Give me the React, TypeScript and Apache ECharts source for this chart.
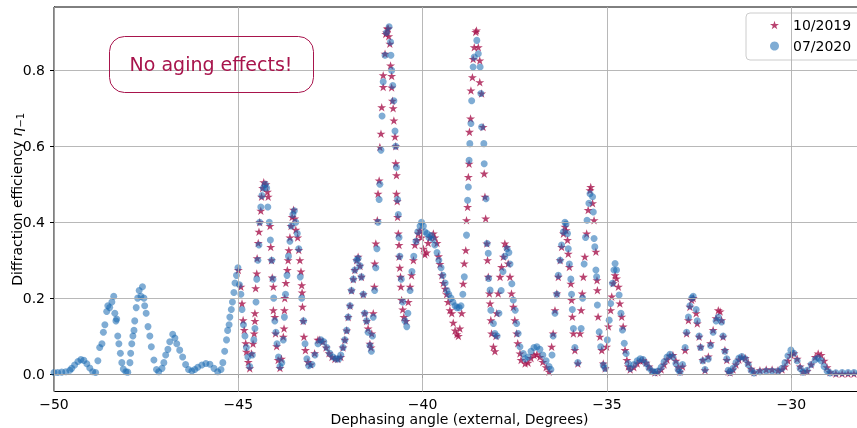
import React, { useEffect, useRef } from 'react';
import * as echarts from 'echarts';

const seriesNames = ['10/2019', '07/2020'];
const xTicks = [-50, -45, -40, -35, -30];
const yTicks = [0, 0.2, 0.4, 0.6, 0.8];

// 10/2019 measurement: [dephasing angle (deg), diffraction efficiency]
const data2019: number[][] = [
  [-45.00,0.274],[-44.93,0.230],[-44.90,0.186],[-44.87,0.142],[-44.84,0.116],[-44.80,0.081],[-44.78,0.059],[-44.73,0.032],[-44.69,0.015],
  [-44.64,0.054],[-44.60,0.080],[-44.57,0.107],[-44.55,0.140],[-44.55,0.160],[-44.53,0.226],[-44.50,0.265],[-44.49,0.305],[-44.46,0.345],[-44.44,0.375],[-44.42,0.400],[-44.39,0.430],[-44.37,0.467],[-44.34,0.490],[-44.31,0.505],[-44.25,0.500],[-44.21,0.480],[-44.19,0.467],[-44.14,0.390],[-44.12,0.335],[-44.10,0.300],[-44.08,0.254],[-44.05,0.230],[-44.05,0.168],[-44.01,0.150],[-43.99,0.107],[-43.96,0.073],[-43.92,0.037],[-43.87,0.016],
  [-43.83,0.040],[-43.78,0.098],[-43.76,0.120],[-43.75,0.168],[-43.74,0.200],[-43.71,0.240],[-43.67,0.274],[-43.65,0.300],[-43.63,0.326],[-43.60,0.360],[-43.57,0.390],[-43.54,0.414],[-43.50,0.433],[-43.47,0.410],[-43.44,0.380],[-43.39,0.360],[-43.36,0.327],[-43.33,0.300],[-43.30,0.270],[-43.28,0.234],[-43.27,0.215],[-43.26,0.177],[-43.24,0.140],[-43.22,0.098],[-43.18,0.063],[-43.11,0.032],[-43.04,0.025],[-42.93,0.055],[-42.84,0.090],
  [-42.79,0.090],[-42.71,0.085],[-42.62,0.070],[-42.54,0.055],[-42.46,0.045],[-42.38,0.040],[-42.30,0.040],[-42.22,0.045],[-42.16,0.070],[-42.11,0.090],[-42.06,0.115],[-42.02,0.150],[-41.97,0.180],[-41.93,0.220],[-41.88,0.250],[-41.84,0.274],[-41.79,0.300],[-41.75,0.309],[-41.70,0.285],[-41.66,0.256],[-41.61,0.210],[-41.57,0.160],[-41.52,0.140],[-41.48,0.120],[-41.43,0.080],[-41.40,0.070],
  [-41.38,0.107],[-41.34,0.160],[-41.31,0.230],[-41.30,0.291],[-41.27,0.344],[-41.23,0.405],[-41.21,0.475],[-41.18,0.510],[-41.16,0.598],[-41.13,0.633],[-41.11,0.703],[-41.07,0.756],[-41.07,0.787],[-41.02,0.844],[-41.00,0.896],[-40.98,0.900],[-40.96,0.910],[-40.93,0.910],[-40.92,0.890],[-40.89,0.870],[-40.87,0.813],[-40.84,0.785],[-40.84,0.755],[-40.82,0.720],[-40.80,0.700],[-40.78,0.668],[-40.75,0.625],[-40.73,0.600],[-40.73,0.555],[-40.71,0.524],[-40.71,0.475],[-40.69,0.455],[-40.68,0.414],[-40.66,0.370],[-40.64,0.340],[-40.64,0.309],[-40.62,0.280],[-40.60,0.256],[-40.59,0.230],[-40.57,0.195],[-40.54,0.170],[-40.51,0.150],[-40.45,0.140],
  [-40.39,0.190],[-40.34,0.230],[-40.30,0.260],[-40.25,0.300],[-40.21,0.340],[-40.16,0.353],[-40.12,0.370],[-40.07,0.378],[-40.03,0.360],[-39.98,0.330],[-39.94,0.315],[-39.89,0.320],[-39.85,0.345],[-39.80,0.360],[-39.71,0.370],[-39.67,0.360],[-39.61,0.345],[-39.57,0.310],[-39.53,0.290],[-39.48,0.260],[-39.44,0.240],[-39.39,0.225],[-39.35,0.210],[-39.31,0.190],[-39.26,0.168],[-39.21,0.160],[-39.17,0.135],[-39.12,0.115],[-39.07,0.105],[-39.03,0.100],
  [-38.99,0.120],[-38.94,0.160],[-38.90,0.238],[-38.87,0.291],[-38.83,0.326],[-38.81,0.405],[-38.78,0.440],[-38.76,0.519],[-38.74,0.554],[-38.73,0.638],[-38.70,0.673],[-38.69,0.747],[-38.65,0.782],[-38.63,0.830],[-38.60,0.861],[-38.56,0.901],[-38.54,0.905],[-38.49,0.861],[-38.45,0.826],[-38.45,0.769],[-38.40,0.739],[-38.36,0.651],[-38.33,0.528],[-38.31,0.467],[-38.29,0.410],[-38.26,0.344],[-38.24,0.300],[-38.22,0.256],[-38.19,0.212],[-38.17,0.186],[-38.15,0.142],[-38.13,0.107],[-38.08,0.072],[-38.04,0.060],[-38.01,0.100],
  [-37.99,0.160],[-37.95,0.212],[-37.90,0.256],[-37.86,0.282],[-37.81,0.309],[-37.77,0.344],[-37.72,0.335],[-37.68,0.291],[-37.63,0.256],[-37.59,0.212],[-37.54,0.177],[-37.50,0.142],[-37.45,0.107],[-37.42,0.081],[-37.36,0.054],[-37.33,0.037],[-37.22,0.028],
  [-37.14,0.030],[-37.06,0.042],[-36.98,0.050],[-36.90,0.052],[-36.82,0.045],[-36.74,0.032],[-36.65,0.018],[-36.57,0.006],
  [-36.50,0.072],[-36.46,0.107],[-36.41,0.168],[-36.36,0.212],[-36.32,0.256],[-36.27,0.300],[-36.23,0.335],[-36.18,0.370],[-36.14,0.388],[-36.11,0.379],[-36.07,0.353],[-36.05,0.317],[-36.02,0.282],[-35.98,0.238],[-35.96,0.195],[-35.94,0.151],[-35.91,0.107],[-35.87,0.063],[-35.79,0.028],
  [-35.73,0.107],[-35.70,0.168],[-35.67,0.212],[-35.64,0.256],[-35.60,0.309],[-35.55,0.370],[-35.51,0.432],[-35.46,0.484],[-35.44,0.493],[-35.39,0.450],[-35.35,0.405],[-35.30,0.322],[-35.27,0.247],[-35.26,0.221],[-35.24,0.151],[-35.19,0.098],[-35.14,0.063],[-35.10,0.028],[-35.05,0.015],
  [-35.01,0.072],[-34.96,0.125],[-34.90,0.168],[-34.87,0.204],[-34.83,0.239],[-34.78,0.260],[-34.74,0.252],[-34.69,0.230],[-34.65,0.186],[-34.60,0.151],[-34.56,0.125],[-34.51,0.063],[-34.46,0.037],[-34.42,0.020],
  [-34.37,0.012],[-34.27,0.018],[-34.18,0.028],[-34.10,0.035],[-34.02,0.036],[-33.94,0.030],[-33.86,0.020],[-33.78,0.010],[-33.70,0.004],[-33.62,0.005],[-33.53,0.012],[-33.45,0.025],[-33.37,0.038],[-33.29,0.048],[-33.21,0.050],[-33.13,0.035],[-33.07,0.018],[-33.02,0.006],[-32.95,0.020],
  [-32.88,0.063],[-32.84,0.107],[-32.79,0.142],[-32.75,0.177],[-32.70,0.195],[-32.66,0.200],[-32.58,0.160],[-32.55,0.133],[-32.50,0.098],[-32.46,0.072],[-32.40,0.037],[-32.34,0.010],
  [-32.25,0.046],[-32.19,0.081],[-32.12,0.116],[-32.04,0.147],[-31.98,0.168],[-31.93,0.165],[-31.89,0.142],[-31.85,0.098],[-31.80,0.063],[-31.75,0.037],[-31.71,0.006],
  [-31.66,0.004],[-31.58,0.012],[-31.50,0.025],[-31.42,0.038],[-31.34,0.044],[-31.25,0.042],[-31.17,0.030],[-31.09,0.014],[-31.01,0.005],[-30.85,0.010],[-30.68,0.012],[-30.52,0.012],[-30.36,0.010],[-30.25,0.012],[-30.17,0.020],[-30.09,0.035],[-30.01,0.050],[-29.93,0.055],[-29.84,0.040],[-29.76,0.020],[-29.68,0.006],[-29.57,0.008],[-29.46,0.025],[-29.35,0.045],[-29.27,0.054],[-29.19,0.050],[-29.11,0.035],[-29.03,0.018],[-28.95,0.005],[-28.79,0.001],[-28.62,0.001],[-28.46,0.001],[-28.30,0.001],[-28.14,0.001],[-28.00,0.001],
];

// 07/2020 measurement: [dephasing angle (deg), diffraction efficiency]
const data2020: number[][] = [
  [-50.00,0.004],[-49.90,0.004],[-49.79,0.005],[-49.68,0.006],[-49.57,0.010],[-49.52,0.015],[-49.44,0.024],[-49.35,0.033],[-49.27,0.038],[-49.19,0.036],[-49.11,0.027],[-49.03,0.016],[-48.95,0.006],[-48.87,0.004],[-48.81,0.035],[-48.76,0.070],[-48.70,0.080],[-48.66,0.110],[-48.62,0.130],[-48.57,0.165],[-48.54,0.180],[-48.49,0.175],[-48.43,0.190],[-48.38,0.205],[-48.35,0.160],[-48.32,0.140],[-48.30,0.145],[-48.27,0.100],[-48.24,0.080],[-48.20,0.055],[-48.16,0.030],[-48.12,0.013],[-48.05,0.006],
  [-48.00,0.005],[-47.94,0.030],[-47.92,0.055],[-47.89,0.080],[-47.86,0.100],[-47.83,0.115],[-47.81,0.140],[-47.77,0.175],[-47.73,0.200],[-47.69,0.220],[-47.64,0.205],[-47.60,0.230],[-47.56,0.200],[-47.54,0.180],[-47.50,0.160],[-47.45,0.125],[-47.40,0.100],[-47.36,0.072],[-47.29,0.037],[-47.22,0.012],[-47.16,0.006],
  [-47.07,0.015],[-47.02,0.030],[-46.97,0.050],[-46.91,0.065],[-46.86,0.085],[-46.78,0.105],[-46.72,0.095],[-46.67,0.080],[-46.59,0.063],[-46.51,0.045],[-46.43,0.025],[-46.35,0.012],[-46.26,0.008],[-46.18,0.012],[-46.10,0.018],[-45.99,0.024],[-45.88,0.028],[-45.77,0.026],[-45.66,0.015],[-45.56,0.006],[-45.47,0.012],[-45.42,0.030],[-45.37,0.060],[-45.32,0.090],[-45.29,0.115],[-45.25,0.130],[-45.23,0.150],[-45.19,0.170],[-45.16,0.190],[-45.12,0.215],[-45.09,0.240],[-45.05,0.260],[-45.01,0.280],[-44.97,0.235],[-44.93,0.210],[-44.90,0.170],[-44.86,0.130],[-44.82,0.100],[-44.78,0.070],[-44.74,0.045],[-44.69,0.020],
  [-44.62,0.050],[-44.58,0.090],[-44.55,0.120],[-44.52,0.190],[-44.50,0.250],[-44.47,0.300],[-44.44,0.340],[-44.42,0.400],[-44.39,0.440],[-44.36,0.470],[-44.32,0.490],[-44.27,0.500],[-44.23,0.490],[-44.20,0.440],[-44.16,0.400],[-44.13,0.353],[-44.09,0.300],[-44.06,0.250],[-44.04,0.200],[-44.01,0.140],[-43.98,0.110],[-43.95,0.080],[-43.91,0.045],[-43.87,0.020],
  [-43.82,0.030],[-43.78,0.090],[-43.75,0.150],[-43.72,0.210],[-43.68,0.260],[-43.64,0.310],[-43.60,0.350],[-43.56,0.390],[-43.52,0.420],[-43.48,0.430],[-43.44,0.400],[-43.40,0.370],[-43.36,0.330],[-43.32,0.256],[-43.28,0.200],[-43.23,0.140],[-43.19,0.080],[-43.14,0.040],[-43.09,0.022],
  [-43.00,0.025],[-42.92,0.050],[-42.84,0.080],[-42.76,0.090],[-42.68,0.085],[-42.60,0.070],[-42.52,0.055],[-42.43,0.045],[-42.35,0.040],[-42.27,0.040],[-42.22,0.050],[-42.16,0.070],[-42.11,0.090],[-42.06,0.115],[-42.02,0.150],[-41.97,0.180],[-41.93,0.220],[-41.88,0.250],[-41.84,0.274],[-41.79,0.300],[-41.75,0.305],[-41.70,0.285],[-41.66,0.256],[-41.61,0.210],[-41.57,0.160],[-41.52,0.140],[-41.48,0.110],[-41.43,0.075],
  [-41.39,0.060],[-41.36,0.100],[-41.34,0.150],[-41.30,0.220],[-41.27,0.280],[-41.24,0.330],[-41.21,0.400],[-41.18,0.460],[-41.16,0.500],[-41.13,0.590],[-41.10,0.680],[-41.07,0.770],[-41.02,0.840],[-40.98,0.900],[-40.91,0.915],[-40.87,0.875],[-40.86,0.840],[-40.84,0.800],[-40.81,0.760],[-40.78,0.720],[-40.75,0.640],[-40.73,0.600],[-40.71,0.545],[-40.68,0.460],[-40.66,0.420],[-40.64,0.360],[-40.62,0.310],[-40.58,0.250],[-40.54,0.190],[-40.48,0.140],[-40.43,0.125],
  [-40.40,0.160],[-40.34,0.220],[-40.29,0.270],[-40.24,0.310],[-40.18,0.350],[-40.13,0.375],[-40.07,0.390],[-40.03,0.400],[-39.98,0.390],[-39.94,0.375],[-39.88,0.370],[-39.83,0.360],[-39.77,0.365],[-39.72,0.355],[-39.67,0.340],[-39.61,0.320],[-39.56,0.300],[-39.50,0.280],[-39.45,0.260],[-39.39,0.240],[-39.34,0.220],[-39.29,0.210],[-39.23,0.200],[-39.18,0.190],[-39.12,0.180],[-39.07,0.175],[-39.01,0.175],[-38.96,0.180],[-38.91,0.210],
  [-38.87,0.256],[-38.81,0.366],[-38.78,0.458],[-38.76,0.493],[-38.74,0.563],[-38.72,0.607],[-38.69,0.660],[-38.67,0.720],[-38.63,0.809],[-38.60,0.835],[-38.53,0.879],[-38.49,0.844],[-38.44,0.809],[-38.42,0.739],[-38.40,0.651],[-38.34,0.607],[-38.33,0.554],[-38.28,0.462],[-38.25,0.344],[-38.22,0.318],[-38.21,0.252],[-38.17,0.221],[-38.15,0.168],[-38.08,0.133],[-38.04,0.107],[-37.98,0.100],
  [-37.93,0.160],[-37.87,0.220],[-37.82,0.270],[-37.77,0.310],[-37.71,0.330],[-37.66,0.320],[-37.63,0.290],[-37.58,0.238],[-37.54,0.195],[-37.49,0.168],[-37.45,0.133],[-37.41,0.107],[-37.36,0.072],[-37.27,0.054],
  [-37.22,0.040],[-37.14,0.045],[-37.06,0.060],[-36.98,0.070],[-36.90,0.072],[-36.82,0.065],[-36.74,0.050],[-36.65,0.035],[-36.57,0.020],[-36.52,0.012],
  [-36.49,0.050],[-36.46,0.100],[-36.41,0.160],[-36.36,0.210],[-36.32,0.260],[-36.27,0.300],[-36.23,0.340],[-36.18,0.375],[-36.14,0.400],[-36.11,0.395],[-36.07,0.370],[-36.05,0.330],[-36.02,0.290],[-35.98,0.250],[-35.96,0.210],[-35.94,0.170],[-35.91,0.120],[-35.87,0.070],[-35.79,0.030],
  [-35.70,0.120],[-35.66,0.200],[-35.62,0.290],[-35.58,0.360],[-35.54,0.405],[-35.49,0.450],[-35.46,0.475],[-35.39,0.467],[-35.37,0.427],[-35.35,0.357],[-35.33,0.335],[-35.30,0.274],[-35.28,0.256],[-35.26,0.182],[-35.21,0.111],[-35.17,0.072],[-35.10,0.024],[-35.05,0.015],
  [-34.99,0.090],[-34.94,0.142],[-34.90,0.186],[-34.85,0.239],[-34.81,0.274],[-34.78,0.291],[-34.74,0.274],[-34.67,0.208],[-34.62,0.160],[-34.58,0.116],[-34.53,0.081],[-34.48,0.054],[-34.42,0.028],
  [-34.37,0.015],[-34.27,0.025],[-34.18,0.035],[-34.10,0.040],[-34.02,0.038],[-33.94,0.028],[-33.86,0.016],[-33.78,0.008],[-33.70,0.005],[-33.62,0.008],[-33.53,0.018],[-33.45,0.032],[-33.37,0.045],[-33.29,0.052],[-33.21,0.045],[-33.13,0.028],[-33.07,0.012],[-33.02,0.005],[-32.95,0.025],
  [-32.88,0.070],[-32.84,0.110],[-32.79,0.150],[-32.75,0.180],[-32.70,0.200],[-32.66,0.205],[-32.58,0.170],[-32.55,0.140],[-32.50,0.100],[-32.46,0.070],[-32.40,0.035],[-32.34,0.012],
  [-32.25,0.040],[-32.19,0.075],[-32.12,0.110],[-32.04,0.140],[-31.98,0.150],[-31.89,0.137],[-31.85,0.100],[-31.80,0.060],[-31.75,0.040],[-31.71,0.010],
  [-31.66,0.005],[-31.58,0.015],[-31.50,0.030],[-31.42,0.042],[-31.34,0.046],[-31.25,0.040],[-31.17,0.025],[-31.09,0.010],[-31.01,0.003],[-30.85,0.006],[-30.68,0.008],[-30.52,0.008],[-30.36,0.008],[-30.25,0.015],[-30.17,0.030],[-30.09,0.048],[-30.01,0.063],[-29.93,0.055],[-29.84,0.035],[-29.76,0.015],[-29.68,0.005],[-29.57,0.010],[-29.46,0.025],[-29.35,0.038],[-29.27,0.042],[-29.19,0.035],[-29.11,0.020],[-29.03,0.008],[-28.95,0.003],[-28.79,0.003],[-28.62,0.004],[-28.46,0.004],[-28.30,0.004],[-28.14,0.004],[-28.00,0.004],
];

const STAR = 'path://M0,-1L0.2245,-0.309L0.951,-0.309L0.363,0.118L0.588,0.809L0,0.382L-0.588,0.809L-0.363,0.118L-0.951,-0.309L-0.2245,-0.309Z';
const RED = '#a8144c';
const BLUE = '#1668b0';
const FONT = '"DejaVu Sans", sans-serif';

export default function App() {
  const ref = useRef<HTMLDivElement>(null);
  useEffect(() => {
    if (!ref.current) return;
    const chart = echarts.init(ref.current, null, { renderer: 'svg' });
    const fmtX = (v: number) => (v < 0 ? '\u2212' + Math.abs(v) : String(v));
    chart.setOption({
      animation: false,
      textStyle: { fontFamily: FONT },
      grid: {
        left: 54, top: 7, width: 811, height: 384.5,
        outerBoundsMode: 'none', containLabel: false,
        show: true, borderColor: '#000', borderWidth: 1, backgroundColor: 'transparent',
      },
      xAxis: {
        type: 'value', min: -50, max: -28, interval: 5,
        axisLine: { show: true, lineStyle: { color: '#000', width: 1 } },
        axisTick: { show: true, length: 4, lineStyle: { color: '#000' }, customValues: xTicks },
        axisLabel: { customValues: xTicks, formatter: fmtX, color: '#000', fontSize: 14, margin: 5, fontFamily: FONT },
        splitLine: { show: false },
        name: 'Dephasing angle (external, Degrees)', nameLocation: 'middle', nameGap: 19,
        nameMoveOverlap: false,
        nameTextStyle: { color: '#000', fontSize: 14, fontFamily: FONT, lineHeight: 16 },
      },
      yAxis: {
        type: 'value', min: -0.046, max: 0.967,
        axisLine: { show: true, lineStyle: { color: '#000', width: 1 } },
        axisTick: { show: true, length: 4, lineStyle: { color: '#000' }, customValues: yTicks },
        axisLabel: { customValues: yTicks, formatter: (v: number) => v.toFixed(1), color: '#000', fontSize: 14, margin: 9, fontFamily: FONT },
        splitLine: { show: false },
        name: '{a|Diffraction efficiency }{b|\u03b7}{c|\u22121}', nameLocation: 'middle', nameGap: 29, nameRotate: 90,
        nameMoveOverlap: false,
        nameTextStyle: {
          color: '#000', fontSize: 14, fontFamily: FONT,
          rich: {
            a: { fontSize: 14, color: '#000', fontFamily: FONT, lineHeight: 16 },
            b: { fontSize: 14, color: '#000', fontFamily: FONT, fontStyle: 'italic', lineHeight: 16 },
            c: { fontSize: 10, color: '#000', fontFamily: FONT, lineHeight: 10, verticalAlign: 'bottom' },
          },
        },
      },
      legend: {
        left: 746, top: 13, orient: 'vertical', data: seriesNames,
        itemWidth: 9, itemHeight: 9, itemGap: 5,
        padding: [4, 30, 6, 24],
        borderColor: '#cccccc', borderWidth: 1, borderRadius: 4,
        backgroundColor: 'rgba(255,255,255,0.8)',
        textStyle: { fontSize: 14, color: '#000', lineHeight: 16, padding: [0, 0, 0, 9], fontFamily: FONT },
      },
      graphic: [
        { type: 'rect', shape: { x: 109.5, y: 36.5, width: 204, height: 56, r: 15 }, style: { fill: 'none', stroke: RED, lineWidth: 1 }, z: 10 },
        { type: 'text', x: 211, y: 64, style: { text: 'No aging effects!', fill: RED, fontSize: 19, fontFamily: FONT, align: 'center', verticalAlign: 'middle' }, z: 10 },
      ],
      series: [
        {
          name: 'grid', type: 'scatter', data: [], z: 1, silent: true,
          markLine: {
            silent: true, symbol: ['none', 'none'], animation: false,
            label: { show: false },
            lineStyle: { color: '#b0b0b0', width: 0.9, type: 'solid' },
            emphasis: { disabled: true },
            data: [...xTicks.map((v) => ({ xAxis: v })), ...yTicks.map((v) => ({ yAxis: v }))],
          },
        },
        {
          name: seriesNames[0], type: 'scatter', data: data2019, z: 2,
          symbol: STAR, symbolSize: 9, symbolKeepAspect: true,
          itemStyle: { color: RED },
        },
        {
          name: seriesNames[1], type: 'scatter', data: data2020, z: 3,
          symbol: 'circle', symbolSize: 7,
          itemStyle: { color: BLUE, opacity: 0.55 },
        },
      ],
    });
    return () => chart.dispose();
  }, []);
  return <div ref={ref} style={{ position: 'fixed', left: 0, top: 0, width: 857, height: 428 }} />;
}
